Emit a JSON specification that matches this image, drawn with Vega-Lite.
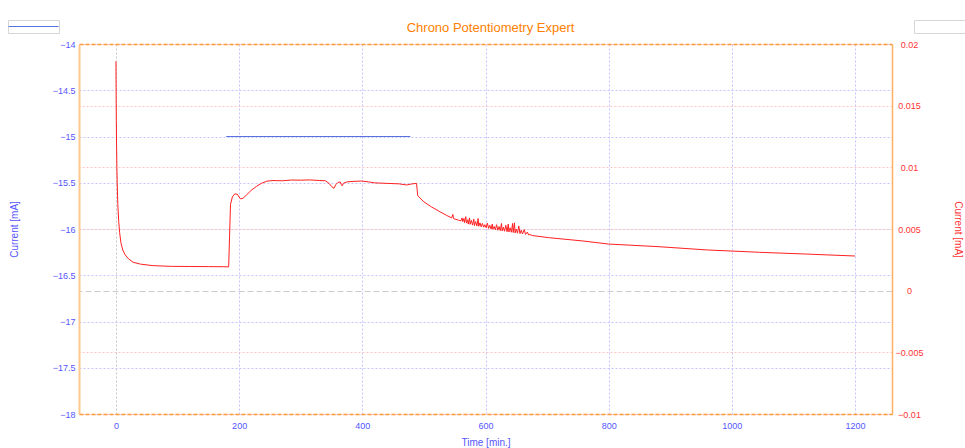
{
  "$schema": "https://vega.github.io/schema/vega-lite/v6.json",
  "width": 813,
  "height": 370,
  "autosize": {"type": "none"},
  "padding": {"left": 79, "top": 44, "right": 73, "bottom": 34},
  "background": "white",
  "title": {"text": "Chrono Potentiometry Expert", "color": "#ff8000", "font": "Liberation Sans", "fontSize": 13, "fontWeight": "normal", "anchor": "middle", "baseline": "alphabetic", "offset": 13, "dx": 5, "dy": 38},
  "config": {
    "view": {"stroke": null},
    "axis": {"labelFont": "Liberation Sans", "titleFont": "Liberation Sans", "labelFontSize": 9, "titleFontSize": 10, "titleFontWeight": "normal", "ticks": false},
    "legend": {"labelFont": "Liberation Sans"}
  },
  "datasets": {
    "setpoint": [
      {"t": 179, "v": -15, "s": "set"},
      {"t": 478, "v": -15, "s": "set"}
    ],
    "measured": [
      {"t": 0, "v": 0.0186, "s": "meas"},
      {"t": 0.3, "v": 0.016, "s": "meas"},
      {"t": 0.6, "v": 0.0138, "s": "meas"},
      {"t": 1.0, "v": 0.0118, "s": "meas"},
      {"t": 1.5, "v": 0.01, "s": "meas"},
      {"t": 2.0, "v": 0.0088, "s": "meas"},
      {"t": 3.0, "v": 0.007, "s": "meas"},
      {"t": 4.5, "v": 0.0056, "s": "meas"},
      {"t": 6, "v": 0.0047, "s": "meas"},
      {"t": 8, "v": 0.0039, "s": "meas"},
      {"t": 11, "v": 0.0033, "s": "meas"},
      {"t": 15, "v": 0.0029, "s": "meas"},
      {"t": 20, "v": 0.0026, "s": "meas"},
      {"t": 28, "v": 0.0023, "s": "meas"},
      {"t": 40, "v": 0.00215, "s": "meas"},
      {"t": 60, "v": 0.00203, "s": "meas"},
      {"t": 90, "v": 0.00197, "s": "meas"},
      {"t": 120, "v": 0.00196, "s": "meas"},
      {"t": 150, "v": 0.00195, "s": "meas"},
      {"t": 175, "v": 0.00194, "s": "meas"},
      {"t": 183, "v": 0.00193, "s": "meas"},
      {"t": 184.5, "v": 0.0045, "s": "meas"},
      {"t": 186, "v": 0.007, "s": "meas"},
      {"t": 189, "v": 0.0076, "s": "meas"},
      {"t": 193, "v": 0.00785, "s": "meas"},
      {"t": 197, "v": 0.00782, "s": "meas"},
      {"t": 202, "v": 0.00745, "s": "meas"},
      {"t": 206, "v": 0.00748, "s": "meas"},
      {"t": 212, "v": 0.00776, "s": "meas"},
      {"t": 220, "v": 0.00815, "s": "meas"},
      {"t": 228, "v": 0.00845, "s": "meas"},
      {"t": 236, "v": 0.0087, "s": "meas"},
      {"t": 245, "v": 0.00888, "s": "meas"},
      {"t": 255, "v": 0.00893, "s": "meas"},
      {"t": 270, "v": 0.00891, "s": "meas"},
      {"t": 285, "v": 0.00897, "s": "meas"},
      {"t": 300, "v": 0.00896, "s": "meas"},
      {"t": 315, "v": 0.00898, "s": "meas"},
      {"t": 330, "v": 0.00893, "s": "meas"},
      {"t": 340, "v": 0.00891, "s": "meas"},
      {"t": 346, "v": 0.0087, "s": "meas"},
      {"t": 350, "v": 0.00845, "s": "meas"},
      {"t": 354, "v": 0.0083, "s": "meas"},
      {"t": 357, "v": 0.0086, "s": "meas"},
      {"t": 360, "v": 0.00876, "s": "meas"},
      {"t": 364, "v": 0.00882, "s": "meas"},
      {"t": 366, "v": 0.0086, "s": "meas"},
      {"t": 367.5, "v": 0.0085, "s": "meas"},
      {"t": 369, "v": 0.0087, "s": "meas"},
      {"t": 375, "v": 0.00882, "s": "meas"},
      {"t": 385, "v": 0.00886, "s": "meas"},
      {"t": 399, "v": 0.00889, "s": "meas"},
      {"t": 410, "v": 0.00882, "s": "meas"},
      {"t": 420, "v": 0.00874, "s": "meas"},
      {"t": 430, "v": 0.00872, "s": "meas"},
      {"t": 445, "v": 0.00869, "s": "meas"},
      {"t": 460, "v": 0.00866, "s": "meas"},
      {"t": 472, "v": 0.00857, "s": "meas"},
      {"t": 480, "v": 0.00865, "s": "meas"},
      {"t": 488, "v": 0.0087, "s": "meas"},
      {"t": 489, "v": 0.0082, "s": "meas"},
      {"t": 490, "v": 0.0077, "s": "meas"},
      {"t": 500, "v": 0.0072, "s": "meas"},
      {"t": 512, "v": 0.0068, "s": "meas"},
      {"t": 526, "v": 0.0064, "s": "meas"},
      {"t": 537, "v": 0.0061, "s": "meas"},
      {"t": 545, "v": 0.0059, "s": "meas"},
      {"t": 547, "v": 0.00618, "s": "meas"},
      {"t": 548, "v": 0.00585, "s": "meas"},
      {"t": 552, "v": 0.00578, "s": "meas"},
      {"t": 556, "v": 0.00572, "s": "meas"},
      {"t": 560, "v": 0.00566, "s": "meas"},
      {"t": 562, "v": 0.0059, "s": "meas"},
      {"t": 563, "v": 0.0056, "s": "meas"},
      {"t": 565, "v": 0.00585, "s": "meas"},
      {"t": 566, "v": 0.00552, "s": "meas"},
      {"t": 568, "v": 0.006, "s": "meas"},
      {"t": 569, "v": 0.00548, "s": "meas"},
      {"t": 571, "v": 0.00575, "s": "meas"},
      {"t": 572, "v": 0.0054, "s": "meas"},
      {"t": 574, "v": 0.0059, "s": "meas"},
      {"t": 575, "v": 0.00538, "s": "meas"},
      {"t": 577, "v": 0.0057, "s": "meas"},
      {"t": 579, "v": 0.00532, "s": "meas"},
      {"t": 581, "v": 0.0058, "s": "meas"},
      {"t": 582, "v": 0.00528, "s": "meas"},
      {"t": 584, "v": 0.0056, "s": "meas"},
      {"t": 586, "v": 0.00525, "s": "meas"},
      {"t": 588, "v": 0.00585, "s": "meas"},
      {"t": 589, "v": 0.00522, "s": "meas"},
      {"t": 591, "v": 0.0055, "s": "meas"},
      {"t": 593, "v": 0.00518, "s": "meas"},
      {"t": 595, "v": 0.00545, "s": "meas"},
      {"t": 597, "v": 0.00515, "s": "meas"},
      {"t": 599, "v": 0.00535, "s": "meas"},
      {"t": 601, "v": 0.0051, "s": "meas"},
      {"t": 603, "v": 0.00548, "s": "meas"},
      {"t": 605, "v": 0.00505, "s": "meas"},
      {"t": 607, "v": 0.0053, "s": "meas"},
      {"t": 609, "v": 0.005, "s": "meas"},
      {"t": 611, "v": 0.0054, "s": "meas"},
      {"t": 612, "v": 0.00498, "s": "meas"},
      {"t": 614, "v": 0.0052, "s": "meas"},
      {"t": 616, "v": 0.00494, "s": "meas"},
      {"t": 618, "v": 0.00535, "s": "meas"},
      {"t": 620, "v": 0.0049, "s": "meas"},
      {"t": 622, "v": 0.0052, "s": "meas"},
      {"t": 624, "v": 0.00487, "s": "meas"},
      {"t": 626, "v": 0.00545, "s": "meas"},
      {"t": 627, "v": 0.00484, "s": "meas"},
      {"t": 629, "v": 0.00515, "s": "meas"},
      {"t": 631, "v": 0.00482, "s": "meas"},
      {"t": 633, "v": 0.0053, "s": "meas"},
      {"t": 635, "v": 0.00478, "s": "meas"},
      {"t": 637, "v": 0.0054, "s": "meas"},
      {"t": 638, "v": 0.00476, "s": "meas"},
      {"t": 640, "v": 0.0051, "s": "meas"},
      {"t": 642, "v": 0.00474, "s": "meas"},
      {"t": 644, "v": 0.00545, "s": "meas"},
      {"t": 645, "v": 0.00472, "s": "meas"},
      {"t": 647, "v": 0.0055, "s": "meas"},
      {"t": 648, "v": 0.00468, "s": "meas"},
      {"t": 650, "v": 0.005, "s": "meas"},
      {"t": 652, "v": 0.00466, "s": "meas"},
      {"t": 654, "v": 0.00525, "s": "meas"},
      {"t": 656, "v": 0.00463, "s": "meas"},
      {"t": 658, "v": 0.0049, "s": "meas"},
      {"t": 660, "v": 0.0046, "s": "meas"},
      {"t": 663, "v": 0.00495, "s": "meas"},
      {"t": 665, "v": 0.00456, "s": "meas"},
      {"t": 668, "v": 0.00475, "s": "meas"},
      {"t": 670, "v": 0.00452, "s": "meas"},
      {"t": 672, "v": 0.00455, "s": "meas"},
      {"t": 676, "v": 0.00447, "s": "meas"},
      {"t": 704, "v": 0.00429, "s": "meas"},
      {"t": 758, "v": 0.00403, "s": "meas"},
      {"t": 800, "v": 0.00378, "s": "meas"},
      {"t": 880, "v": 0.00357, "s": "meas"},
      {"t": 960, "v": 0.0033, "s": "meas"},
      {"t": 1045, "v": 0.00311, "s": "meas"},
      {"t": 1120, "v": 0.00297, "s": "meas"},
      {"t": 1200, "v": 0.00281, "s": "meas"}
    ]
  },
  "layer": [
    {
      "data": {"name": "setpoint"},
      "mark": {"type": "line", "strokeWidth": 1},
      "encoding": {
        "x": {"field": "t", "type": "quantitative", "scale": {"domain": [-60, 1260], "nice": false, "zero": false},
          "axis": {"orient": "bottom", "values": [0, 200, 400, 600, 800, 1000, 1200], "format": "d", "grid": true,
            "gridColor": {"condition": {"test": "datum.value === 0", "value": "#c8c8c8"}, "value": "#c4c4ff"},
            "gridDash": [2, 2], "domainColor": "#ff9933", "domainDash": [4, 2], "domainWidth": 1.5,
            "labelColor": "#5555ff", "labelPadding": 7, "title": "Time [min.]", "titleColor": "#5555ff", "titlePadding": 7}},
        "y": {"field": "v", "type": "quantitative", "scale": {"domain": [-18, -14], "nice": false, "zero": false},
          "axis": {"orient": "left", "values": [-18, -17.5, -17, -16.5, -16, -15.5, -15, -14.5, -14], "format": ".1~f", "grid": true,
            "gridColor": "#c4c4ff", "gridDash": [2, 2], "domainColor": "#ffc890", "domainWidth": 2,
            "labelColor": "#5555ff", "labelPadding": 4, "title": "Current [mA]", "titleColor": "#5555ff",
            "titleX": -65, "titleY": 185, "titleAngle": 270, "titleBaseline": "middle", "titleAlign": "center"}},
        "color": {"field": "s", "type": "nominal", "scale": {"range": ["#5872e0"]},
          "legend": {"orient": "none", "legendX": -71, "legendY": -24, "title": null, "labelExpr": "''", "labelOffset": 0,
            "symbolType": "stroke", "symbolSize": 2500, "symbolStrokeWidth": 1, "clipHeight": 13, "padding": 0,
            "strokeColor": "#d6d6d6", "fillColor": "white"}}
      }
    },
    {
      "data": {"name": "measured"},
      "mark": {"type": "line", "strokeWidth": 1},
      "encoding": {
        "x": {"field": "t", "type": "quantitative", "scale": {"domain": [-60, 1260], "nice": false, "zero": false},
          "axis": {"orient": "top", "labels": false, "grid": false, "domainColor": "#ff9933", "domainDash": [4, 2], "domainWidth": 1.5, "title": null}},
        "y": {"field": "v", "type": "quantitative", "scale": {"domain": [-0.01, 0.02], "nice": false, "zero": false},
          "axis": {"orient": "right", "values": [-0.01, -0.005, 0, 0.005, 0.01, 0.015, 0.02], "format": ".3~f", "grid": true,
            "gridColor": {"condition": {"test": "datum.value === 0", "value": "#cccccc"}, "value": "#ffc4c4"},
            "gridDash": {"condition": {"test": "datum.value === 0", "value": [6, 3]}, "value": [2, 2]},
            "domainColor": "#ffb060", "domainWidth": 1.5,
            "labelColor": "#ff3333", "labelAlign": "center", "labelPadding": 17, "title": "Current [mA]", "titleColor": "#ff3333",
            "titleX": 65, "titleY": 185, "titleAngle": 90, "titleBaseline": "middle", "titleAlign": "center"}},
        "color": {"field": "s", "type": "nominal", "scale": {"range": ["#ff2020"]},
          "legend": {"orient": "none", "legendX": 835, "legendY": -24, "title": null, "labelExpr": "''", "labelOffset": 0,
            "symbolType": "stroke", "symbolSize": 3600, "symbolOpacity": 0, "clipHeight": 13, "padding": 0,
            "strokeColor": "#d6d6d6", "fillColor": "white"}}
      }
    }
  ],
  "resolve": {"scale": {"x": "independent", "y": "independent", "color": "independent"}, "axis": {"x": "independent", "y": "independent"}}
}
